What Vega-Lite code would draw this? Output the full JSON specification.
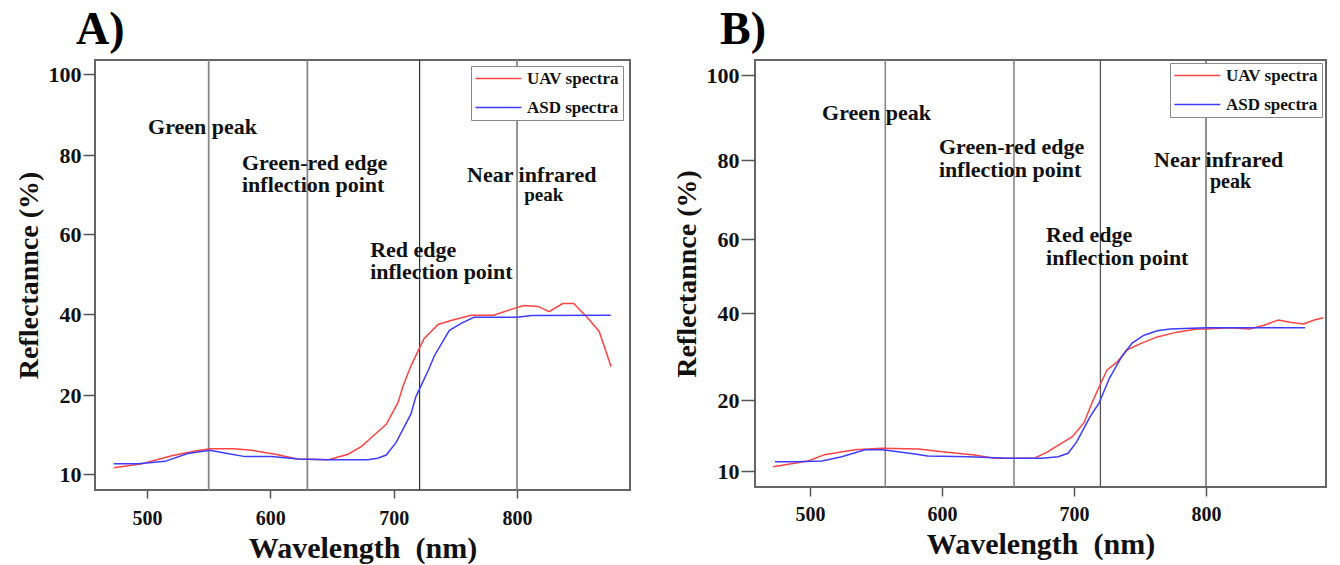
{
  "$schema": "https://vega.github.io/schema/vega-lite/v6.json",
  "padding": {"left": 14, "top": 6, "right": 0, "bottom": 0},
  "background": "white",
  "spacing": 41,
  "config": {
    "font": "Liberation Serif",
    "view": {"stroke": "#666", "strokeWidth": 2},
    "axis": {"labelFont": "Liberation Serif", "labelFontWeight": "bold", "titleFont": "Liberation Serif", "titleFontWeight": "bold", "labelColor": "#111", "titleColor": "#111", "tickColor": "#555", "tickWidth": 1.5, "domain": false, "grid": false},
    "title": {"font": "Liberation Serif", "fontWeight": "bold", "fontSize": 46, "anchor": "start", "frame": "group", "color": "#000", "offset": 5},
    "text": {"font": "Liberation Serif", "fontWeight": "bold", "color": "#111", "align": "left", "baseline": "top"},
    "legend": {"title": null, "symbolType": "M-1.08,0L5.05,0", "symbolSize": 225, "symbolStrokeWidth": 1.3, "symbolFillColor": "transparent", "labelFontSize": 17, "labelFont": "Liberation Serif", "labelFontWeight": "bold", "labelColor": "#111", "strokeColor": "#888", "fillColor": "white", "padding": 4, "rowPadding": 11, "labelOffset": 35}
  },
  "resolve": {"scale": {"color": "independent"}, "legend": {"color": "independent"}},
  "datasets": {
    "specA": [
      {"wavelength": 473, "reflectance": 10.8, "series": "UAV spectra"},
      {"wavelength": 496, "reflectance": 11.3, "series": "UAV spectra"},
      {"wavelength": 520, "reflectance": 12.3, "series": "UAV spectra"},
      {"wavelength": 539, "reflectance": 12.9, "series": "UAV spectra"},
      {"wavelength": 551, "reflectance": 13.2, "series": "UAV spectra"},
      {"wavelength": 570, "reflectance": 13.2, "series": "UAV spectra"},
      {"wavelength": 585, "reflectance": 13.0, "series": "UAV spectra"},
      {"wavelength": 604, "reflectance": 12.5, "series": "UAV spectra"},
      {"wavelength": 622, "reflectance": 11.9, "series": "UAV spectra"},
      {"wavelength": 647, "reflectance": 11.8, "series": "UAV spectra"},
      {"wavelength": 663, "reflectance": 12.5, "series": "UAV spectra"},
      {"wavelength": 674, "reflectance": 13.5, "series": "UAV spectra"},
      {"wavelength": 684, "reflectance": 14.9, "series": "UAV spectra"},
      {"wavelength": 694, "reflectance": 16.3, "series": "UAV spectra"},
      {"wavelength": 703.6, "reflectance": 19.1, "series": "UAV spectra"},
      {"wavelength": 707.6, "reflectance": 22.2, "series": "UAV spectra"},
      {"wavelength": 714, "reflectance": 27.2, "series": "UAV spectra"},
      {"wavelength": 719.8, "reflectance": 30.9, "series": "UAV spectra"},
      {"wavelength": 724.6, "reflectance": 33.9, "series": "UAV spectra"},
      {"wavelength": 736, "reflectance": 37.4, "series": "UAV spectra"},
      {"wavelength": 746.5, "reflectance": 38.4, "series": "UAV spectra"},
      {"wavelength": 762.8, "reflectance": 39.7, "series": "UAV spectra"},
      {"wavelength": 781, "reflectance": 39.7, "series": "UAV spectra"},
      {"wavelength": 797.6, "reflectance": 41.4, "series": "UAV spectra"},
      {"wavelength": 805.8, "reflectance": 42.1, "series": "UAV spectra"},
      {"wavelength": 817, "reflectance": 41.9, "series": "UAV spectra"},
      {"wavelength": 826, "reflectance": 40.6, "series": "UAV spectra"},
      {"wavelength": 837, "reflectance": 42.6, "series": "UAV spectra"},
      {"wavelength": 846, "reflectance": 42.6, "series": "UAV spectra"},
      {"wavelength": 857.7, "reflectance": 38.9, "series": "UAV spectra"},
      {"wavelength": 866.6, "reflectance": 35.7, "series": "UAV spectra"},
      {"wavelength": 876.3, "reflectance": 27.0, "series": "UAV spectra"},
      {"wavelength": 473, "reflectance": 11.3, "series": "ASD spectra"},
      {"wavelength": 493, "reflectance": 11.3, "series": "ASD spectra"},
      {"wavelength": 514.6, "reflectance": 11.6, "series": "ASD spectra"},
      {"wavelength": 533, "reflectance": 12.6, "series": "ASD spectra"},
      {"wavelength": 551, "reflectance": 13.0, "series": "ASD spectra"},
      {"wavelength": 565, "reflectance": 12.6, "series": "ASD spectra"},
      {"wavelength": 579.5, "reflectance": 12.2, "series": "ASD spectra"},
      {"wavelength": 601, "reflectance": 12.2, "series": "ASD spectra"},
      {"wavelength": 622.5, "reflectance": 11.9, "series": "ASD spectra"},
      {"wavelength": 647, "reflectance": 11.8, "series": "ASD spectra"},
      {"wavelength": 679, "reflectance": 11.8, "series": "ASD spectra"},
      {"wavelength": 687, "reflectance": 12.0, "series": "ASD spectra"},
      {"wavelength": 694, "reflectance": 12.4, "series": "ASD spectra"},
      {"wavelength": 702, "reflectance": 14.0, "series": "ASD spectra"},
      {"wavelength": 708, "reflectance": 15.8, "series": "ASD spectra"},
      {"wavelength": 714, "reflectance": 17.6, "series": "ASD spectra"},
      {"wavelength": 718, "reflectance": 19.8, "series": "ASD spectra"},
      {"wavelength": 722, "reflectance": 22.2, "series": "ASD spectra"},
      {"wavelength": 727.9, "reflectance": 26.0, "series": "ASD spectra"},
      {"wavelength": 733, "reflectance": 29.7, "series": "ASD spectra"},
      {"wavelength": 745, "reflectance": 35.9, "series": "ASD spectra"},
      {"wavelength": 754.7, "reflectance": 37.7, "series": "ASD spectra"},
      {"wavelength": 765, "reflectance": 39.2, "series": "ASD spectra"},
      {"wavelength": 800, "reflectance": 39.2, "series": "ASD spectra"},
      {"wavelength": 812, "reflectance": 39.6, "series": "ASD spectra"},
      {"wavelength": 876, "reflectance": 39.7, "series": "ASD spectra"}
    ],
    "specB": [
      {"wavelength": 472, "reflectance": 10.6, "series": "UAV spectra"},
      {"wavelength": 498.5, "reflectance": 11.4, "series": "UAV spectra"},
      {"wavelength": 511, "reflectance": 12.3, "series": "UAV spectra"},
      {"wavelength": 534, "reflectance": 13.0, "series": "UAV spectra"},
      {"wavelength": 554.5, "reflectance": 13.2, "series": "UAV spectra"},
      {"wavelength": 582, "reflectance": 13.1, "series": "UAV spectra"},
      {"wavelength": 600, "reflectance": 12.7, "series": "UAV spectra"},
      {"wavelength": 623, "reflectance": 12.3, "series": "UAV spectra"},
      {"wavelength": 640, "reflectance": 11.8, "series": "UAV spectra"},
      {"wavelength": 670, "reflectance": 11.8, "series": "UAV spectra"},
      {"wavelength": 680, "reflectance": 12.7, "series": "UAV spectra"},
      {"wavelength": 687, "reflectance": 13.5, "series": "UAV spectra"},
      {"wavelength": 698.5, "reflectance": 14.8, "series": "UAV spectra"},
      {"wavelength": 707.6, "reflectance": 16.8, "series": "UAV spectra"},
      {"wavelength": 713.6, "reflectance": 19.6, "series": "UAV spectra"},
      {"wavelength": 719, "reflectance": 23.0, "series": "UAV spectra"},
      {"wavelength": 725, "reflectance": 26.9, "series": "UAV spectra"},
      {"wavelength": 732.6, "reflectance": 28.7, "series": "UAV spectra"},
      {"wavelength": 740, "reflectance": 31.5, "series": "UAV spectra"},
      {"wavelength": 750, "reflectance": 32.9, "series": "UAV spectra"},
      {"wavelength": 763, "reflectance": 34.5, "series": "UAV spectra"},
      {"wavelength": 778, "reflectance": 35.6, "series": "UAV spectra"},
      {"wavelength": 793, "reflectance": 36.3, "series": "UAV spectra"},
      {"wavelength": 800.8, "reflectance": 36.3, "series": "UAV spectra"},
      {"wavelength": 818, "reflectance": 36.6, "series": "UAV spectra"},
      {"wavelength": 833, "reflectance": 36.3, "series": "UAV spectra"},
      {"wavelength": 844, "reflectance": 37.2, "series": "UAV spectra"},
      {"wavelength": 855, "reflectance": 38.4, "series": "UAV spectra"},
      {"wavelength": 863.6, "reflectance": 37.9, "series": "UAV spectra"},
      {"wavelength": 874, "reflectance": 37.5, "series": "UAV spectra"},
      {"wavelength": 882, "reflectance": 38.4, "series": "UAV spectra"},
      {"wavelength": 889, "reflectance": 38.9, "series": "UAV spectra"},
      {"wavelength": 473.5, "reflectance": 11.3, "series": "ASD spectra"},
      {"wavelength": 488.6, "reflectance": 11.3, "series": "ASD spectra"},
      {"wavelength": 509, "reflectance": 11.4, "series": "ASD spectra"},
      {"wavelength": 524, "reflectance": 12.0, "series": "ASD spectra"},
      {"wavelength": 541.7, "reflectance": 13.0, "series": "ASD spectra"},
      {"wavelength": 555, "reflectance": 13.0, "series": "ASD spectra"},
      {"wavelength": 579.5, "reflectance": 12.4, "series": "ASD spectra"},
      {"wavelength": 589, "reflectance": 12.1, "series": "ASD spectra"},
      {"wavelength": 619.7, "reflectance": 12.0, "series": "ASD spectra"},
      {"wavelength": 650, "reflectance": 11.8, "series": "ASD spectra"},
      {"wavelength": 675.8, "reflectance": 11.8, "series": "ASD spectra"},
      {"wavelength": 688, "reflectance": 12.0, "series": "ASD spectra"},
      {"wavelength": 695.5, "reflectance": 12.5, "series": "ASD spectra"},
      {"wavelength": 702, "reflectance": 14.1, "series": "ASD spectra"},
      {"wavelength": 712, "reflectance": 17.6, "series": "ASD spectra"},
      {"wavelength": 719, "reflectance": 19.6, "series": "ASD spectra"},
      {"wavelength": 727, "reflectance": 25.1, "series": "ASD spectra"},
      {"wavelength": 736, "reflectance": 29.9, "series": "ASD spectra"},
      {"wavelength": 744, "reflectance": 33.1, "series": "ASD spectra"},
      {"wavelength": 753, "reflectance": 34.9, "series": "ASD spectra"},
      {"wavelength": 763, "reflectance": 35.9, "series": "ASD spectra"},
      {"wavelength": 772.7, "reflectance": 36.3, "series": "ASD spectra"},
      {"wavelength": 800.8, "reflectance": 36.6, "series": "ASD spectra"},
      {"wavelength": 875, "reflectance": 36.6, "series": "ASD spectra"}
    ],
    "linesA": [
      {"wavelength": 550, "band": "Green peak"},
      {"wavelength": 630, "band": "Green-red edge inflection point"},
      {"wavelength": 721, "band": "Red edge inflection point"},
      {"wavelength": 800, "band": "Near infrared peak"}
    ],
    "linesB": [
      {"wavelength": 557, "band": "Green peak"},
      {"wavelength": 654.5, "band": "Green-red edge inflection point"},
      {"wavelength": 720, "band": "Red edge inflection point"},
      {"wavelength": 800, "band": "Near infrared peak"}
    ]
  },
  "hconcat": [
    {
      "title": {"text": "A)", "dx": -19},
      "width": 535,
      "height": 430,
      "layer": [
        {
          "data": {"name": "linesA"},
          "transform": [{"filter": "datum.band != 'Red edge inflection point'"}],
          "mark": {"type": "rule", "stroke": "#888", "strokeWidth": 1.8},
          "encoding": {"x": {"field": "wavelength", "type": "quantitative"}}
        },
        {
          "data": {"name": "linesA"},
          "transform": [{"filter": "datum.band == 'Red edge inflection point'"}],
          "mark": {"type": "rule", "stroke": "#333", "strokeWidth": 1.2},
          "encoding": {"x": {"field": "wavelength", "type": "quantitative"}}
        },
        {
          "data": {"name": "specA"},
          "mark": {"type": "line", "strokeWidth": 1.5, "clip": true},
          "encoding": {
            "x": {"field": "wavelength", "type": "quantitative",
              "scale": {"domain": [457.8, 891.6], "nice": false, "zero": false},
              "axis": {"values": [500, 600, 700, 800], "title": "Wavelength\u00a0 (nm)", "labelFontSize": 20, "tickSize": 8, "labelPadding": 10, "titlePadding": 5, "titleFontSize": 30}},
            "y": {"field": "reflectance", "type": "quantitative",
              "scale": {"domain": [7.97, 10, 20, 40, 60, 80, 100, 103.5], "range": [430, 414, 335, 254, 174, 95, 14, 0], "nice": false, "zero": false},
              "axis": {"values": [10, 20, 40, 60, 80, 100], "title": "Reflectannce (%)", "labelFontSize": 22, "tickSize": 12, "labelPadding": 2, "titlePadding": 5, "titleFontSize": 28}},
            "color": {"field": "series", "type": "nominal",
              "scale": {"domain": ["UAV spectra", "ASD spectra"], "range": ["#ff4444", "#3d3dff"]},
              "legend": {"orient": "none", "legendX": 376, "legendY": 6}}
          }
        },
        {"data": {"values": [{}]}, "mark": {"type": "text", "text": "Green peak", "fontSize": 22},
          "encoding": {"x": {"datum": 500.8}, "y": {"datum": 89.4}}},
        {"data": {"values": [{}]}, "mark": {"type": "text", "text": ["Green-red edge", "inflection point"], "fontSize": 22, "lineHeight": 22},
          "encoding": {"x": {"datum": 577}, "y": {"datum": 80.4}}},
        {"data": {"values": [{}]}, "mark": {"type": "text", "text": "Near infrared", "fontSize": 22},
          "encoding": {"x": {"datum": 759.5}, "y": {"datum": 77.5}}},
        {"data": {"values": [{}]}, "mark": {"type": "text", "text": "peak", "fontSize": 19},
          "encoding": {"x": {"datum": 805.8}, "y": {"datum": 72.2}}},
        {"data": {"values": [{}]}, "mark": {"type": "text", "text": ["Red edge", "inflection point"], "fontSize": 22, "lineHeight": 22},
          "encoding": {"x": {"datum": 680.9}, "y": {"datum": 58.6}}}
      ]
    },
    {
      "title": {"text": "B)", "dx": -35},
      "width": 571,
      "height": 427,
      "layer": [
        {
          "data": {"name": "linesB"},
          "transform": [{"filter": "datum.wavelength < 700"}],
          "mark": {"type": "rule", "stroke": "#888", "strokeWidth": 1.6},
          "encoding": {"x": {"field": "wavelength", "type": "quantitative"}}
        },
        {
          "data": {"name": "linesB"},
          "transform": [{"filter": "datum.wavelength > 700"}],
          "mark": {"type": "rule", "stroke": "#555", "strokeWidth": 1.3},
          "encoding": {"x": {"field": "wavelength", "type": "quantitative"}}
        },
        {
          "data": {"name": "specB"},
          "mark": {"type": "line", "strokeWidth": 1.5, "clip": true},
          "encoding": {
            "x": {"field": "wavelength", "type": "quantitative",
              "scale": {"domain": [458.3, 890.9], "nice": false, "zero": false},
              "axis": {"values": [500, 600, 700, 800], "title": "Wavelength\u00a0 (nm)", "labelFontSize": 20, "tickSize": 9, "labelPadding": 8, "titlePadding": 5, "titleFontSize": 30}},
            "y": {"field": "reflectance", "type": "quantitative",
              "scale": {"domain": [7.75, 10, 20, 40, 60, 80, 100, 103.5], "range": [427, 411, 340, 253, 179, 100, 15, 0], "nice": false, "zero": false},
              "axis": {"values": [10, 20, 40, 60, 80, 100], "title": "Reflectannce (%)", "labelFontSize": 22, "tickSize": 14, "labelPadding": 2, "titlePadding": 5, "titleFontSize": 28}},
            "color": {"field": "series", "type": "nominal",
              "scale": {"domain": ["UAV spectra", "ASD spectra"], "range": ["#ff4444", "#3d3dff"]},
              "legend": {"orient": "none", "legendX": 415, "legendY": 3}}
          }
        },
        {"data": {"values": [{}]}, "mark": {"type": "text", "text": "Green peak", "fontSize": 22},
          "encoding": {"x": {"datum": 509.1}, "y": {"datum": 93.4}}},
        {"data": {"values": [{}]}, "mark": {"type": "text", "text": ["Green-red edge", "inflection point"], "fontSize": 22, "lineHeight": 23},
          "encoding": {"x": {"datum": 597.7}, "y": {"datum": 85.4}}},
        {"data": {"values": [{}]}, "mark": {"type": "text", "text": "Near infrared", "fontSize": 22},
          "encoding": {"x": {"datum": 760.6}, "y": {"datum": 82.4}}},
        {"data": {"values": [{}]}, "mark": {"type": "text", "text": "peak", "fontSize": 20},
          "encoding": {"x": {"datum": 803.0}, "y": {"datum": 77.0}}},
        {"data": {"values": [{}]}, "mark": {"type": "text", "text": ["Red edge", "inflection point"], "fontSize": 22, "lineHeight": 23},
          "encoding": {"x": {"datum": 678.8}, "y": {"datum": 63.5}}}
      ]
    }
  ]
}
